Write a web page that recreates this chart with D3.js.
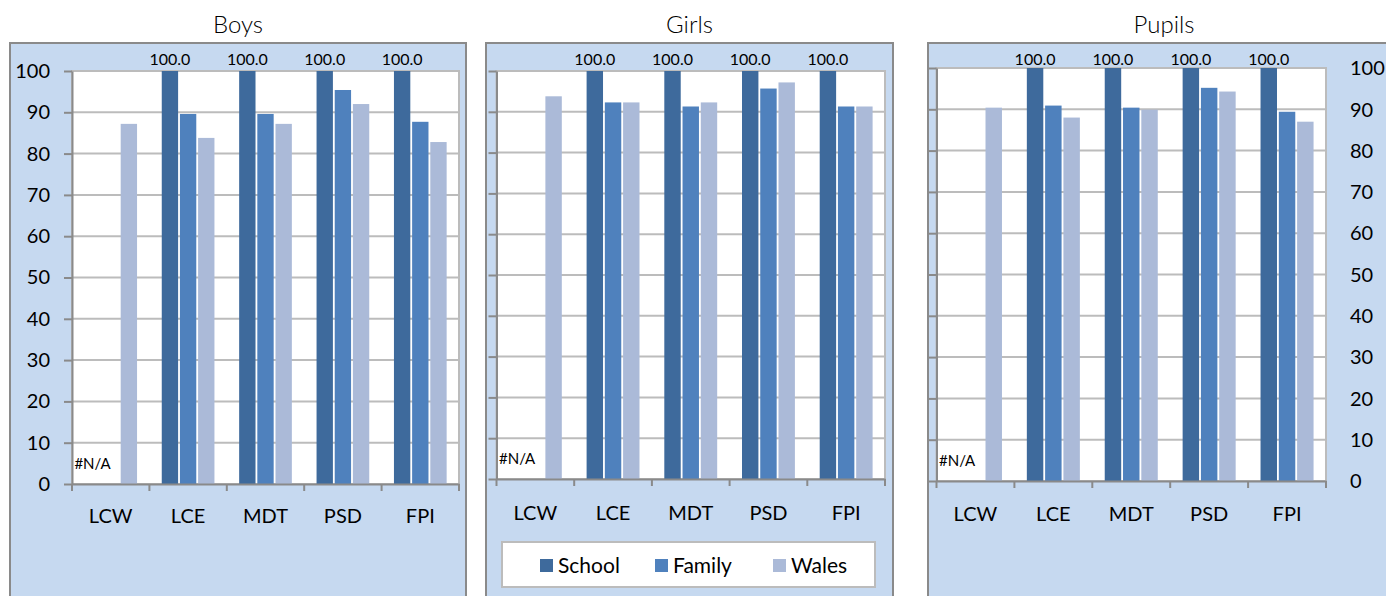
<!DOCTYPE html>
<html>
<head>
<meta charset="utf-8">
<script src="https://cdnjs.cloudflare.com/ajax/libs/d3/7.8.5/d3.min.js"></script>
<style>
  body { margin: 0; background: #fff; }
  svg { display: block; font-family: Lato, "Open Sans", sans-serif; }
</style>
</head>
<body>
<div id="chart"></div>
<script>
const WIDTH = 1386;
const HEIGHT = 596;

// data (null = #N/A)
const categories = ['LCW', 'LCE', 'MDT', 'PSD', 'FPI'];
const seriesNames = ['School', 'Family', 'Wales'];
const yTicks = [0, 10, 20, 30, 40, 50, 60, 70, 80, 90, 100];

const boysSchool = [null, 100, 100, 100, 100];
const boysFamily = [null, 89.6, 89.6, 95.4, 87.7];
const boysWales = [87.2, 83.8, 87.2, 92.0, 82.8];

const girlsSchool = [null, 100, 100, 100, 100];
const girlsFamily = [null, 92.3, 91.3, 95.7, 91.3];
const girlsWales = [93.8, 92.3, 92.3, 97.2, 91.3];

const pupilsSchool = [null, 100, 100, 100, 100];
const pupilsFamily = [null, 90.9, 90.4, 95.2, 89.4];
const pupilsWales = [90.4, 88.0, 89.9, 94.3, 87.0];

const COLORS = { School: '#3e6a9c', Family: '#4f81bd', Wales: '#abbad8' };
const BG = '#c6d9f0';
const GRID = '#bcbcbc';
const AXIS = '#8a8a8a';

const svg = d3.select('#chart')
  .append('svg')
  .attr('width', WIDTH)
  .attr('height', HEIGHT);

// panel layouts
const panels = [
  { title: 'Boys', values: [boysSchool, boysFamily, boysWales],
    box: [10, 466], plot: [72, 459], y0: 484, y100: 71, axisSide: 'left', labelY: 523 },
  { title: 'Girls', values: [girlsSchool, girlsFamily, girlsWales],
    box: [486, 893], plot: [496.5, 885], y0: 479, y100: 71, axisSide: 'none', labelY: 520, legend: true },
  { title: 'Pupils', values: [pupilsSchool, pupilsFamily, pupilsWales],
    box: [928, 1400], plot: [936.5, 1326], y0: 481, y100: 68, axisSide: 'right', labelY: 521 }
];

panels.forEach(drawPanel);

function drawPanel(p) {
  const g = svg.append('g');

  // outer chart box
  g.append('rect')
    .attr('x', p.box[0]).attr('y', 43)
    .attr('width', p.box[1] - p.box[0]).attr('height', 600)
    .attr('fill', BG).attr('stroke', AXIS).attr('stroke-width', 2);

  g.append('text')
    .attr('x', (p.box[0] + p.box[1]) / 2).attr('y', 33)
    .attr('text-anchor', 'middle')
    .attr('font-size', 24)
    .attr('font-weight', 300)
    .text(p.title);

  const x = d3.scaleBand().domain(categories).range(p.plot);
  const xSub = d3.scaleBand().domain(seriesNames)
    .range([0, x.bandwidth()]).paddingInner(0.1).paddingOuter(0.68);
  const y = d3.scaleLinear().domain([0, 100]).range([p.y0, p.y100]);

  // plot area
  g.append('rect')
    .attr('x', p.plot[0]).attr('y', p.y100)
    .attr('width', p.plot[1] - p.plot[0]).attr('height', p.y0 - p.y100)
    .attr('fill', '#fff').attr('stroke', GRID).attr('stroke-width', 2);

  // gridlines
  g.append('g')
    .selectAll('line')
    .data(yTicks.filter(d => d > 0))
    .enter()
    .append('line')
    .attr('x1', p.plot[0]).attr('x2', p.plot[1])
    .attr('y1', d => y(d)).attr('y2', d => y(d))
    .attr('stroke', GRID).attr('stroke-width', 2);

  // bars
  seriesNames.forEach((s, i) => {
    g.append('g')
      .selectAll('rect')
      .data(categories.map((c, j) => ({ c: c, v: p.values[i][j] })).filter(d => d.v !== null))
      .enter()
      .append('rect')
      .attr('x', d => x(d.c) + xSub(s))
      .attr('y', d => y(d.v))
      .attr('width', xSub.bandwidth())
      .attr('height', d => y(0) - y(d.v))
      .attr('fill', COLORS[s]);
  });

  // data labels for School series
  g.append('g')
    .selectAll('text')
    .data(categories.map((c, j) => ({ c: c, v: p.values[0][j] })))
    .enter()
    .append('text')
    .attr('x', d => x(d.c) + xSub('School') + xSub.bandwidth() / 2)
    .attr('y', d => d.v === null ? y(0) - 15 : 65)
    .attr('text-anchor', 'middle')
    .attr('font-size', d => d.v === null ? 15 : 16)
    .text(d => d.v === null ? '#N/A' : d.v.toFixed(1));

  // y axis
  const yAxis = d3.axisLeft(y).tickValues(yTicks).tickSize(8).tickSizeOuter(0).tickPadding(14);
  const ya = g.append('g')
    .attr('transform', 'translate(' + p.plot[0] + ',0)')
    .call(yAxis);
  ya.selectAll('line, path').attr('stroke', AXIS).attr('stroke-width', 2);
  ya.selectAll('text').attr('font-size', 20).attr('fill', '#000')
    .attr('font-family', 'Lato, sans-serif')
    .style('display', p.axisSide === 'left' ? null : 'none');

  if (p.axisSide === 'right') {
    g.append('g')
      .selectAll('text')
      .data(yTicks)
      .enter()
      .append('text')
      .attr('x', 1350)
      .attr('y', d => y(d))
      .attr('dy', '0.36em')
      .attr('font-size', 20)
      .text(d => d);
  }

  // x axis
  const xAxis = d3.axisBottom(x).tickSize(0).tickPadding(p.labelY - p.y0 - 14);
  const xa = g.append('g')
    .attr('transform', 'translate(0,' + p.y0 + ')')
    .call(xAxis);
  xa.select('path').attr('stroke', AXIS).attr('stroke-width', 2);
  xa.selectAll('text').attr('font-size', 20).attr('fill', '#000')
    .attr('font-family', 'Lato, sans-serif');
  xa.selectAll('.sep')
    .data(categories.concat(['end']))
    .enter()
    .append('line')
    .attr('class', 'sep')
    .attr('x1', d => d === 'end' ? p.plot[1] : x(d))
    .attr('x2', d => d === 'end' ? p.plot[1] : x(d))
    .attr('y1', 0).attr('y2', 7)
    .attr('stroke', AXIS).attr('stroke-width', 2);

  if (p.legend) drawLegend(g);
}

function drawLegend(g) {
  g.append('rect')
    .attr('x', 502).attr('y', 542)
    .attr('width', 373).attr('height', 45)
    .attr('fill', '#fff').attr('stroke', GRID).attr('stroke-width', 2);

  const lx = d3.scaleOrdinal().domain(seriesNames).range([540, 655, 773]);
  const items = g.append('g')
    .selectAll('g')
    .data(seriesNames)
    .enter()
    .append('g')
    .attr('transform', d => 'translate(' + lx(d) + ',559)');
  items.append('rect')
    .attr('width', 13).attr('height', 13)
    .attr('fill', d => COLORS[d]);
  items.append('text')
    .attr('x', 18).attr('y', 14)
    .attr('font-size', 21)
    .text(d => d);
}
</script>
</body>
</html>
